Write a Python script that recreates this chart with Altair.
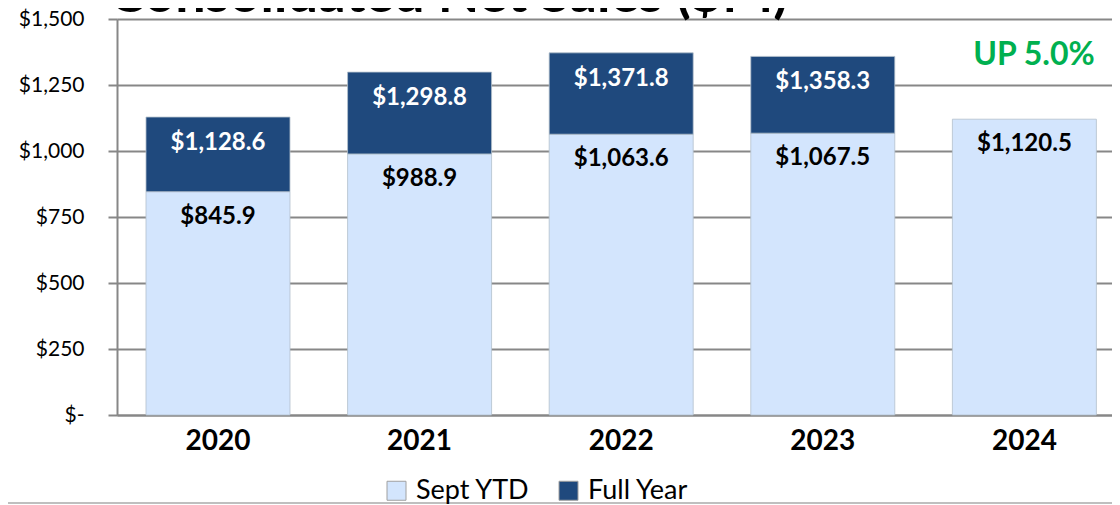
import altair as alt
import pandas as pd

years = ["2020", "2021", "2022", "2023", "2024"]
sept_ytd = [845.9, 988.9, 1063.6, 1067.5, 1120.5]
full_year = [1128.6, 1298.8, 1371.8, 1358.3, None]
series_names = ["Sept YTD", "Full Year"]
series_colors = ["#D3E5FD", "#1F497D"]
y_ticks = [0, 250, 500, 750, 1000, 1250, 1500]
title_text = ["Consolidated Net Sales ($M)"]
note_text = ["UP 5.0%"]

rows = []
for yr, ytd, fy in zip(years, sept_ytd, full_year):
    rows.append(dict(year=yr, series="Sept YTD", lo=0.0, hi=ytd, label=f"${ytd:,.1f}"))
    if fy is not None:
        rows.append(dict(year=yr, series="Full Year", lo=ytd, hi=fy, label=f"${fy:,.1f}"))
df = pd.DataFrame(rows)

W, H = 995, 396
GRAY = "#878787"

x_enc = alt.X(
    "year:N", sort=years, title=None,
    scale=alt.Scale(paddingInner=0.2857, paddingOuter=0.1106, align=0.65),
    axis=alt.Axis(labelFont="Lato", labelFontSize=28, labelFontWeight="bold",
                  labelColor="black", labelPadding=12, ticks=False,
                  domainColor=GRAY, domainWidth=2, labelAngle=0, grid=False),
)
y_enc = alt.Y(
    "hi:Q", title=None,
    scale=alt.Scale(domain=[0, 1500], nice=False, zero=True),
    axis=alt.Axis(values=y_ticks,
                  labelExpr="datum.value == 0 ? '$-' : '$' + format(datum.value, ',')",
                  labelFont="Lato", labelFontSize=21, labelFontWeight="normal",
                  labelColor="black", labelPadding=24,
                  tickSize=9, tickWidth=2, tickColor=GRAY,
                  domainColor=GRAY, domainWidth=2,
                  grid=True, gridColor=GRAY, gridWidth=2),
)

bars = alt.Chart(df).mark_bar(stroke="#b4c0cc", strokeWidth=0.8).encode(
    x=x_enc,
    y=y_enc,
    y2="lo:Q",
    color=alt.Color(
        "series:N",
        scale=alt.Scale(domain=series_names, range=series_colors),
        legend=alt.Legend(title=None, orient="none", direction="horizontal",
                          legendX=266, legendY=458, symbolType="square",
                          symbolSize=361, symbolStrokeColor="#a0a0a0",
                          symbolStrokeWidth=1, labelFontSize=27, labelFont="Lato",
                          labelColor="black", labelOffset=6, columnPadding=25,
                          padding=0),
    ),
)

txt_ytd = alt.Chart(df).transform_filter("datum.series == 'Sept YTD'").mark_text(
    font="Lato", fontSize=24, fontWeight="bold", color="black", dy=25, baseline="middle"
).encode(x=alt.X("year:N", sort=years), y="hi:Q", text="label:N")

txt_fy = alt.Chart(df).transform_filter("datum.series == 'Full Year'").mark_text(
    font="Lato", fontSize=24, fontWeight="bold", color="white", dy=26, baseline="middle"
).encode(x=alt.X("year:N", sort=years), y="hi:Q", text="label:N")

note = alt.Chart(pd.DataFrame({"t": note_text})).mark_text(
    font="Lato", fontSize=32, fontWeight="bold", color="#00B050", baseline="middle"
).encode(x=alt.value(917), y=alt.value(36), text="t:N")

title = alt.Chart(pd.DataFrame({"t": title_text})).mark_text(
    font="Lato", fontSize=54, fontWeight="bold", color="black", align="left",
    baseline="alphabetic"
).encode(x=alt.value(-8), y=alt.value(-7), text="t:N")

bottom_rule = alt.Chart(pd.DataFrame({"a": [0]})).mark_rule(
    color="#bfbfbf", strokeWidth=2
).encode(x=alt.value(-117), x2=alt.value(W), y=alt.value(484))

chart = alt.layer(bars, txt_ytd, txt_fy, note, title, bottom_rule).properties(
    width=W, height=H,
    autosize=alt.AutoSizeParams(type="none"),
    padding={"left": 109, "top": 11, "right": 0, "bottom": 90},
).configure_view(stroke=None).configure(font="Lato")

chart.save("out.html", embed_options={"renderer": "svg", "actions": False})
